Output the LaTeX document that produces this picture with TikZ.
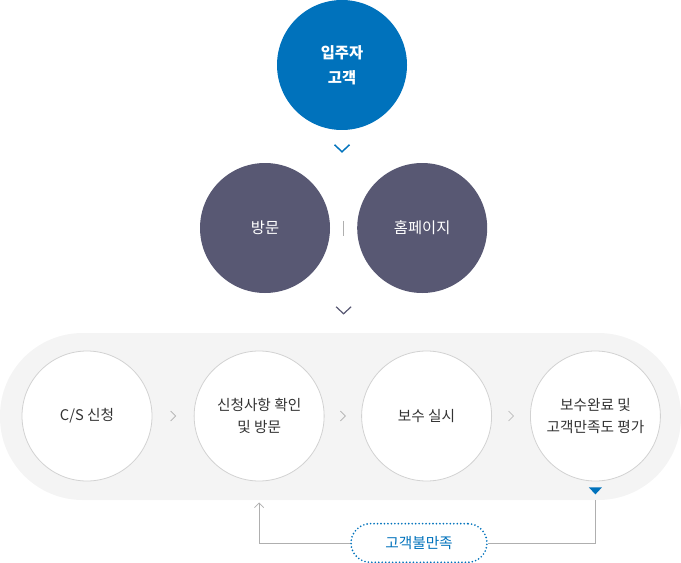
\documentclass[tikz,border=0pt]{standalone}
\usepackage{fontspec}
\setmainfont{Noto Sans CJK KR}
\usepackage{xcolor}
\usetikzlibrary{
    arrows.meta,
    positioning,
    calc
}
\definecolor{csblue}{RGB}{0,114,188}
\definecolor{csslate}{RGB}{88,88,115}
\definecolor{csback}{RGB}{244,244,244}
\definecolor{csline}{RGB}{210,210,210}
\definecolor{csgray}{RGB}{175,175,175}
\definecolor{cstext}{RGB}{51,51,51}
\tikzset{
  bigc/.style   = {circle, minimum size=97.5pt, inner sep=0pt, align=center,
                   text=white, font=\fontsize{11.5}{19}\selectfont},
  stepc/.style  = {circle, draw=csline, fill=white, line width=0.6pt,
                   minimum size=97.5pt, inner sep=0pt, align=center,
                   text=cstext, font=\fontsize{11}{16}\selectfont},
  pill/.style   = {draw=csblue, fill=white, rounded corners=14.5pt,
                   line width=1.4pt, line cap=round, dash pattern=on 0pt off 2.6pt,
                   minimum width=102pt, minimum height=29pt, text=csblue,
                   font=\fontsize{11}{12}\selectfont},
  chev/.style   = {line width=1.1pt},
  tinychev/.style = {csgray, line width=0.5pt},
  fb/.style     = {csgray, line width=0.6pt}
}

\begin{document}
\begin{tikzpicture}[x=0.75pt, y=-0.75pt]
    \useasboundingbox (0,0) rectangle (681,563);
    \fill[csback, rounded corners=62pt] (0,333) rectangle (681,500);
    % who comes in
    \node[bigc, fill=csblue, font=\bfseries\fontsize{11.5}{19}\selectfont]
        (cust) at (342,65) {입주자\\고객};
    \node[bigc, fill=csslate] (visit) at (265,228) {방문};
    \node[bigc, fill=csslate, right=20pt of visit] (home) {홈페이지};
    \draw[chev, csblue] ($(cust.south)+(0,18)$) ++(-7.5,-3.5) -- ++(7.5,7) -- ++(7.5,-7);
    \draw[csgray, line width=0.6pt] ($(visit)!0.5!(home)$) ++(0,-7.5) -- ++(0,15);
    \draw[chev, csslate, line width=0.9pt] ($(visit.south)!0.5!(home.south)+(0,17)$)
        ++(-7.5,-3.5) -- ++(7.5,7) -- ++(7.5,-7);
    % process
    \node[stepc] (c1) at (87,416) {C/S 신청};
    \node[stepc, right=31pt of c1] (c2) {신청사항 확인\\및 방문};
    \node[stepc, right=27.5pt of c2] (c3) {보수 실시};
    \node[stepc, right=28.5pt of c3] (c4) {보수완료 및\\고객만족도 평가};
    \foreach \a/\b in {c1/c2, c2/c3, c3/c4}
        \draw[tinychev] ($(\a)!0.5!(\b)$) ++(-2.5,-5) -- ++(5,5) -- ++(-5,5);
    % feedback
    \fill[csblue] ($(c4.south)+(-6.5,6)$) -- ++(13,0) -- ++(-6.5,7) -- cycle;
    \coordinate (fbout) at ($(c4.south)+(0,19)$);
    \node[pill] (unsat) at (419,543) {고객불만족};
    \draw[fb] (fbout) |- (unsat.east);
    \draw[fb, -{Straight Barb[length=3.5pt, width=7pt]}] (unsat.west) -| ($(c2.south)+(0,21)$);
\end{tikzpicture}
\end{document}
